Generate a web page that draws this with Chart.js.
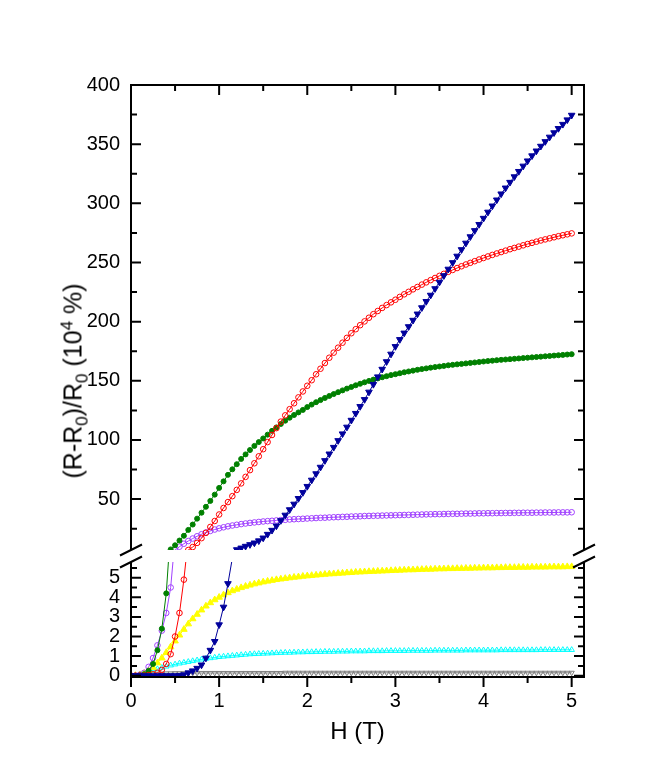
<!DOCTYPE html>
<html>
<head>
<meta charset="utf-8">
<script src="https://cdn.jsdelivr.net/npm/chart.js@4.4.1/dist/chart.umd.min.js"></script>
<style>
  html, body { margin: 0; padding: 0; background: #fff; }
  #wrap { position: relative; width: 664px; height: 780px; overflow: hidden; }
  #wrap canvas { position: absolute; left: 0; top: 0; }
  #ytitle {
    position: absolute; left: 73px; top: 381px;
    transform: translate(-50%, -50%) rotate(-90deg);
    font: 25px 'Liberation Sans', Arial, sans-serif; line-height: 1;
    white-space: nowrap; color: #000;
  }
  #ytitle sub, #ytitle sup { font-size: 17px; line-height: 0; }
</style>
</head>
<body>
<div id="wrap">
  <canvas id="lower" width="664" height="780"></canvas>
  <canvas id="upper" width="664" height="780"></canvas>
  <div id="ytitle">(R-R<sub>0</sub>)/R<sub>0</sub> (10<sup>4</sup> %)</div>
</div>
<script>
// field values (T), one entry per measured point
const fieldT = [
  0, 0.05, 0.1, 0.15, 0.2, 0.25, 0.3, 0.35, 0.4, 0.45,
  0.5, 0.55, 0.6, 0.65, 0.7, 0.75, 0.8, 0.85, 0.9, 0.95,
  1, 1.05, 1.1, 1.15, 1.2, 1.25, 1.3, 1.35, 1.4, 1.45,
  1.5, 1.55, 1.6, 1.65, 1.7, 1.75, 1.8, 1.85, 1.9, 1.95,
  2, 2.05, 2.1, 2.15, 2.2, 2.25, 2.3, 2.35, 2.4, 2.45,
  2.5, 2.55, 2.6, 2.65, 2.7, 2.75, 2.8, 2.85, 2.9, 2.95,
  3, 3.05, 3.1, 3.15, 3.2, 3.25, 3.3, 3.35, 3.4, 3.45,
  3.5, 3.55, 3.6, 3.65, 3.7, 3.75, 3.8, 3.85, 3.9, 3.95,
  4, 4.05, 4.1, 4.15, 4.2, 4.25, 4.3, 4.35, 4.4, 4.45,
  4.5, 4.55, 4.6, 4.65, 4.7, 4.75, 4.8, 4.85, 4.9, 4.95,
  5
];

// (R-R0)/R0 in units of 10^4 %
const greenMR = [
  0, 0, 0.02, 0.08, 0.25, 0.6, 1.3, 2.4, 4.2, 7.5,
  11, 15, 19, 24, 28.5, 33.5, 38.5, 43.5, 48.5, 53.8,
  59.5, 65, 70.5, 75.2, 79.5, 84, 87.8, 91.5, 95, 98.2,
  101.3, 104.5, 107.7, 110.6, 113.5, 116.3, 118.8, 121.1, 123.3, 125.4,
  127.8, 129.9, 131.9, 133.7, 135.5, 137.2, 138.8, 140.4, 141.9, 143.4,
  144.8, 146.2, 147.5, 148.7, 149.9, 151, 152, 153, 153.9, 154.8,
  155.6, 156.4, 157.2, 157.9, 158.6, 159.3, 159.9, 160.5, 161.1, 161.6,
  162.1, 162.6, 163.1, 163.5, 163.9, 164.3, 164.7, 165.1, 165.5, 165.9,
  166.3, 166.7, 167, 167.4, 167.7, 168, 168.3, 168.6, 168.9, 169.2,
  169.5, 169.8, 170.1, 170.4, 170.7, 171, 171.3, 171.6, 171.9, 172.2,
  172.5
];
const redMR = [
  0, 0, 0, 0.01, 0.03, 0.07, 0.15, 0.3, 0.6, 1.1,
  2, 3.2, 4.9, 7, 9.5, 13, 17, 21.5, 26.5, 31.5,
  37, 42.5, 47.5, 52.5, 57.8, 63.3, 68.8, 74.5, 80.3, 86.2,
  92.2, 98.2, 104.2, 110, 115.5, 120.8, 126, 131, 136, 141,
  145.8, 150.5, 155.5, 160.2, 165, 169.5, 173.8, 178, 182.2, 186.3,
  190.2, 193.6, 197, 200.2, 203.3, 206.3, 209, 211.6, 214, 216.3,
  218.5, 220.9, 223.1, 225.2, 227.3, 229.3, 231.3, 233.2, 235.1, 236.9,
  238.7, 240.4, 242.1, 243.7, 245.3, 246.8, 248.3, 249.7, 251.1, 252.5,
  253.8, 255.1, 256.4, 257.6, 258.8, 260, 261.2, 262.3, 263.4, 264.5,
  265.6, 266.6, 267.6, 268.6, 269.5, 270.4, 271.3, 272.2, 273, 273.8,
  274.6
];
const purpleMR = [
  0, 0, 0.05, 0.15, 0.45, 0.9, 1.55, 2.3, 3.2, 4.5,
  7, 9.8, 12.3, 14.6, 16.7, 18.6, 20.3, 21.8, 23.1, 24.3,
  25.3, 26.2, 27, 27.7, 28.3, 28.9, 29.4, 29.9, 30.3, 30.7,
  31.1, 31.4, 31.7, 32, 32.3, 32.5, 32.8, 33, 33.2, 33.4,
  33.6, 33.8, 34, 34.2, 34.3, 34.5, 34.7, 34.8, 35, 35.1,
  35.3, 35.4, 35.5, 35.7, 35.8, 35.9, 36, 36.1, 36.2, 36.3,
  36.4, 36.5, 36.6, 36.7, 36.8, 36.9, 37, 37.1, 37.2, 37.3,
  37.3, 37.4, 37.5, 37.6, 37.6, 37.7, 37.8, 37.8, 37.9, 38,
  38, 38.1, 38.1, 38.2, 38.2, 38.3, 38.3, 38.4, 38.4, 38.5,
  38.5, 38.5, 38.6, 38.6, 38.7, 38.7, 38.7, 38.8, 38.8, 38.8,
  38.9
];
const navyMR = [
  0, 0, 0, 0, 0, 0, 0, 0, 0, 0,
  0, 0.01, 0.05, 0.15, 0.25, 0.38, 0.55, 0.9, 1.3, 1.75,
  2.6, 3.5, 4.7, 6, 7.3, 8.7, 10.2, 11.6, 13, 14.8,
  17.2, 20.3, 23.7, 27.4, 31.9, 36.5, 41.1, 45.8, 50.6, 55.6,
  60.8, 66.1, 71.5, 77, 82.6, 88.2, 93.8, 99.5, 105.2, 110.9,
  116.7, 122.5, 128.3, 134.2, 140.5, 147, 153.4, 159.8, 166.2, 172.6,
  179, 184.9, 190.4, 195.8, 201.2, 206.5, 211.8, 217.1, 222.4, 227.9,
  233.4, 238.9, 244.4, 249.9, 255.4, 260.9, 266.4, 271.8, 277, 282.2,
  287.4, 292.6, 297.8, 302.9, 308, 313, 317.8, 322.5, 327, 331.5,
  335.9, 340.2, 344.3, 348.3, 352.2, 356, 359.7, 363.3, 366.8, 370.6,
  374.5
];
const yellowMR = [
  0, 0.01, 0.04, 0.12, 0.25, 0.42, 0.65, 0.9, 1.18, 1.47,
  1.77, 2.07, 2.36, 2.64, 2.9, 3.13, 3.35, 3.55, 3.72, 3.87,
  4, 4.12, 4.23, 4.33, 4.41, 4.49, 4.56, 4.62, 4.68, 4.73,
  4.78, 4.82, 4.86, 4.9, 4.93, 4.96, 4.99, 5.02, 5.04, 5.07,
  5.09, 5.11, 5.13, 5.15, 5.17, 5.19, 5.2, 5.22, 5.23, 5.25,
  5.26, 5.28, 5.29, 5.3, 5.31, 5.32, 5.33, 5.34, 5.35, 5.36,
  5.37, 5.38, 5.39, 5.4, 5.4, 5.41, 5.42, 5.43, 5.43, 5.44,
  5.45, 5.45, 5.46, 5.46, 5.47, 5.47, 5.48, 5.48, 5.49, 5.49,
  5.5, 5.5, 5.5, 5.51, 5.51, 5.52, 5.52, 5.52, 5.53, 5.53,
  5.53, 5.54, 5.54, 5.54, 5.54, 5.55, 5.55, 5.55, 5.55, 5.56,
  5.56
];
const cyanMR = [
  0, 0.02, 0.06, 0.12, 0.19, 0.27, 0.34, 0.41, 0.47, 0.53,
  0.58, 0.63, 0.67, 0.71, 0.75, 0.79, 0.83, 0.87, 0.9, 0.93,
  0.96, 0.98, 1, 1.02, 1.04, 1.06, 1.08, 1.1, 1.11, 1.12,
  1.13, 1.14, 1.15, 1.16, 1.17, 1.18, 1.18, 1.19, 1.2, 1.2,
  1.21, 1.21, 1.22, 1.22, 1.23, 1.23, 1.23, 1.24, 1.24, 1.24,
  1.25, 1.25, 1.25, 1.25, 1.26, 1.26, 1.26, 1.26, 1.27, 1.27,
  1.27, 1.27, 1.27, 1.28, 1.28, 1.28, 1.28, 1.28, 1.28, 1.29,
  1.29, 1.29, 1.29, 1.29, 1.29, 1.29, 1.3, 1.3, 1.3, 1.3,
  1.3, 1.3, 1.3, 1.3, 1.31, 1.31, 1.31, 1.31, 1.31, 1.31,
  1.31, 1.31, 1.31, 1.32, 1.32, 1.32, 1.32, 1.32, 1.32, 1.32,
  1.32
];
const grayMR = [
  0, 0.01, 0.03, 0.05, 0.07, 0.09, 0.1, 0.11, 0.12, 0.12,
  0.13, 0.13, 0.13, 0.13, 0.14, 0.14, 0.14, 0.14, 0.14, 0.14,
  0.14, 0.14, 0.14, 0.14, 0.14, 0.14, 0.14, 0.14, 0.14, 0.14,
  0.14, 0.14, 0.14, 0.14, 0.14, 0.15, 0.15, 0.15, 0.15, 0.15,
  0.15, 0.15, 0.15, 0.15, 0.15, 0.15, 0.15, 0.15, 0.15, 0.15,
  0.15, 0.15, 0.15, 0.15, 0.15, 0.15, 0.15, 0.15, 0.15, 0.15,
  0.15, 0.15, 0.15, 0.15, 0.15, 0.15, 0.15, 0.15, 0.15, 0.15,
  0.15, 0.15, 0.15, 0.15, 0.15, 0.15, 0.15, 0.15, 0.15, 0.15,
  0.15, 0.15, 0.15, 0.15, 0.15, 0.15, 0.15, 0.15, 0.15, 0.15,
  0.15, 0.15, 0.15, 0.15, 0.15, 0.15, 0.15, 0.15, 0.15, 0.15,
  0.15
];

// axis ticks
const xMajor = [0, 1, 2, 3, 4, 5];
const xMinor = [0.5, 1.5, 2.5, 3.5, 4.5];
const upperMajor = [50, 100, 150, 200, 250, 300, 350, 400];
const upperMinor = [25, 75, 125, 175, 225, 275, 325, 375];
const lowerMajor = [0, 1, 2, 3, 4, 5];
const lowerMinor = [0.5, 1.5, 2.5, 3.5, 4.5, 5.5];

const FONT = "'Liberation Sans', Arial, sans-serif";
const X_MAX = 5.14;
const UPPER_RANGE = [7, 400];
const LOWER_RANGE = [-0.066, 5.8];

// first entry is drawn on top
const series = [
  { data: navyMR,   color: '#00009c', style: 'triangle', rot: 180, r: 3.8, filled: true },
  { data: redMR,    color: '#ff0000', style: 'circle',   rot: 0,   r: 2.8, filled: false },
  { data: greenMR,  color: '#008000', style: 'circle',   rot: 0,   r: 2.5, filled: true },
  { data: purpleMR, color: '#a040ff', style: 'circle',   rot: 0,   r: 2.8, filled: false },
  { data: yellowMR, color: '#ffff00', style: 'triangle', rot: 0,   r: 3.8, filled: true },
  { data: cyanMR,   color: '#00ffff', style: 'triangle', rot: 0,   r: 3.2, filled: false },
  { data: grayMR,   color: '#808080', style: 'triangle', rot: 180, r: 3,   filled: false }
];

// markers only where the value lies inside the panel's range;
// connecting lines are left to the chart's own clipping
function makeDatasets(range) {
  return series.map(s => ({
    data: fieldT.map((h, i) => ({ x: h, y: s.data[i] })),
    borderColor: s.color,
    borderWidth: 1,
    pointStyle: s.style,
    pointRotation: s.rot,
    pointRadius: c => (c.raw && c.raw.y >= range[0] && c.raw.y <= range[1]) ? s.r : 0,
    pointBorderWidth: 1,
    pointBorderColor: s.color,
    pointBackgroundColor: s.filled ? s.color : 'rgba(255,255,255,0)',
    tension: 0,
    fill: false,
    clip: 0
  }));
}

// axes, ticks and the axis-break marks
function framePlugin(panel) {
  return {
    id: 'frame_' + panel,
    afterDraw(chart) {
      const { ctx, chartArea: a } = chart;
      const xs = chart.scales.x, ys = chart.scales.y;
      const major = panel === 'upper' ? upperMajor : lowerMajor;
      const minor = panel === 'upper' ? upperMinor : lowerMinor;
      ctx.save();
      ctx.strokeStyle = '#000';
      ctx.lineWidth = 2;
      ctx.beginPath();
      ctx.moveTo(a.left, a.top); ctx.lineTo(a.left, a.bottom);
      ctx.moveTo(a.right, a.top); ctx.lineTo(a.right, a.bottom);
      const edge = panel === 'upper' ? a.top : a.bottom;
      ctx.moveTo(a.left - 1, edge); ctx.lineTo(a.right + 1, edge);

      // y ticks point inward on both sides
      const yTick = (v, len) => {
        const py = ys.getPixelForValue(v);
        ctx.moveTo(a.left, py); ctx.lineTo(a.left + len, py);
        ctx.moveTo(a.right, py); ctx.lineTo(a.right - len, py);
      };
      major.forEach(v => yTick(v, 10));
      minor.forEach(v => yTick(v, 6));

      // x ticks: downward on both the top frame and the bottom axis
      const xTick = (v, len) => {
        const px = xs.getPixelForValue(v);
        ctx.moveTo(px, edge); ctx.lineTo(px, edge + len);
      };
      xMajor.forEach(v => xTick(v, 10));
      xMinor.forEach(v => xTick(v, 6));
      ctx.stroke();

      // break marks
      const by = panel === 'upper' ? a.bottom : a.top;
      ctx.beginPath();
      [a.left, a.right].forEach(bx => {
        ctx.moveTo(bx - 11, by + 5.5);
        ctx.lineTo(bx + 11, by - 5.5);
      });
      ctx.stroke();
      ctx.restore();
    }
  };
}

const tickFont = { family: FONT, size: 20 };

function yAxis(range, ticks) {
  return {
    type: 'linear', min: range[0], max: range[1],
    grid: { display: false, drawTicks: false },
    border: { display: false },
    afterBuildTicks: s => { s.ticks = ticks.map(v => ({ value: v })); },
    afterFit: s => { s.width = 131; },
    ticks: { font: tickFont, color: '#000', padding: 11, autoSkip: false }
  };
}

const common = {
  responsive: false,
  animation: false,
  events: [],
  plugins: { legend: { display: false }, tooltip: { enabled: false } }
};

// upper panel
new Chart(document.getElementById('upper'), {
  type: 'line',
  data: { datasets: makeDatasets(UPPER_RANGE) },
  options: Object.assign({}, common, {
    layout: { padding: { left: 0, right: 80, top: 85, bottom: 230 } },
    scales: {
      x: { type: 'linear', min: 0, max: X_MAX, display: false },
      y: yAxis(UPPER_RANGE, upperMajor)
    }
  }),
  plugins: [framePlugin('upper')]
});

// lower panel
new Chart(document.getElementById('lower'), {
  type: 'line',
  data: { datasets: makeDatasets(LOWER_RANGE) },
  options: Object.assign({}, common, {
    layout: { padding: { left: 0, right: 80, top: 562, bottom: 33 } },
    scales: {
      x: {
        type: 'linear', min: 0, max: X_MAX,
        grid: { display: false, drawTicks: false },
        border: { display: false },
        afterBuildTicks: s => { s.ticks = xMajor.map(v => ({ value: v })); },
        afterFit: s => { s.height = 70; },
        ticks: { font: tickFont, color: '#000', padding: 12, autoSkip: false, maxRotation: 0 },
        title: { display: true, text: 'H (T)', color: '#000', font: { family: FONT, size: 24 }, padding: 0 }
      },
      y: yAxis(LOWER_RANGE, lowerMajor)
    }
  }),
  plugins: [framePlugin('lower')]
});
</script>
</body>
</html>
